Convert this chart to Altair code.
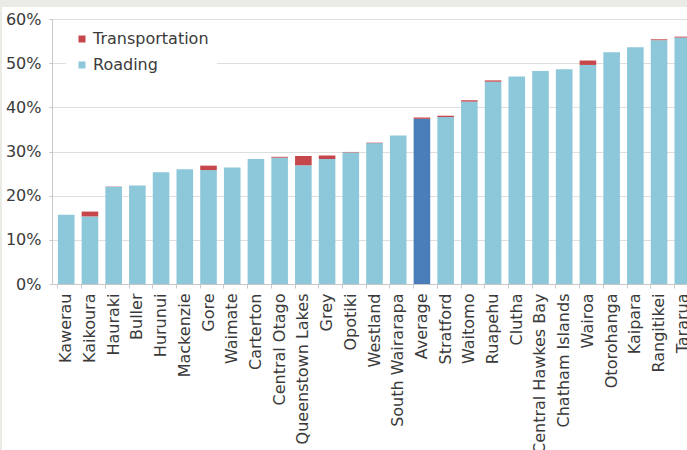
import altair as alt
import pandas as pd

names = ["Kawerau", "Kaikoura", "Hauraki", "Buller", "Hurunui", "Mackenzie", "Gore",
         "Waimate", "Carterton", "Central Otago", "Queenstown Lakes", "Grey", "Opotiki",
         "Westland", "South Wairarapa", "Average", "Stratford", "Waitomo", "Ruapehu",
         "Clutha", "Central Hawkes Bay", "Chatham Islands", "Wairoa", "Otorohanga",
         "Kaipara", "Rangitikei", "Tararua"]
roading = [15.7, 15.3, 22.0, 22.3, 25.3, 26.0, 25.8, 26.4, 28.3, 28.6, 26.9, 28.3, 29.8,
           31.9, 33.6, 37.4, 37.8, 41.3, 45.8, 47.0, 48.2, 48.6, 49.6, 52.5, 53.6, 55.2, 55.8]
transport = [0.0, 1.1, 0.1, 0.0, 0.0, 0.0, 1.0, 0.0, 0.0, 0.2, 2.1, 0.8, 0.1,
             0.1, 0.0, 0.3, 0.3, 0.3, 0.3, 0.0, 0.0, 0.0, 1.0, 0.0, 0.0, 0.2, 0.2]
series_names = ["Transportation", "Roading", "Average"]
series_colors = ["#C6474B", "#8DC8DA", "#4A7EBB"]

rows = []
for n, r, t in zip(names, roading, transport):
    rows.append({"Council": n, "Series": "Average" if n == "Average" else "Roading", "Value": r, "ord": 0})
    rows.append({"Council": n, "Series": "Transportation", "Value": t, "ord": 1})
df = pd.DataFrame(rows)

FONT = "DejaVu Sans"

bars = alt.Chart(df).mark_bar().encode(
    x=alt.X("Council:N", sort=names, title=None,
            scale=alt.Scale(paddingInner=0.3, paddingOuter=0.25, range=[0, 645]),
            axis=alt.Axis(labelAngle=-90, bandPosition=0, tickSize=4, labelPadding=5,
                          labelFont=FONT, labelFontSize=16, labelColor="#3a3a3a",
                          domainColor="#C8C8C8", tickColor="#C8C8C8", grid=False)),
    y=alt.Y("Value:Q", stack="zero", title=None,
            scale=alt.Scale(domain=[0, 60], nice=False),
            axis=alt.Axis(values=[0, 10, 20, 30, 40, 50, 60], labelExpr="datum.value + '%'",
                          tickSize=3, labelPadding=8, labelFont=FONT, labelFontSize=16,
                          labelColor="#3a3a3a", domainColor="#C8C8C8", tickColor="#C8C8C8",
                          gridColor="#DEDEDE")),
    color=alt.Color("Series:N",
                    scale=alt.Scale(domain=series_names, range=series_colors),
                    legend=alt.Legend(values=["Transportation", "Roading"], title=None,
                                      orient="none", legendX=14, legendY=4,
                                      symbolType="square", symbolSize=49, symbolStrokeWidth=0,
                                      labelFont=FONT, labelFontSize=16, labelColor="#3a3a3a",
                                      labelOffset=3, rowPadding=10, padding=8,
                                      fillColor="white")),
    order=alt.Order("ord:Q"),
)

strip_df = pd.DataFrame({"a": [0]})
top_strip = alt.Chart(strip_df).mark_rect(color="#EBEBE6").encode(
    x=alt.value(-52), x2=alt.value(700), y=alt.value(-19), y2=alt.value(-12))
left_strip = alt.Chart(strip_df).mark_rect(color="#EBEBE6").encode(
    x=alt.value(-52), x2=alt.value(-50), y=alt.value(-19), y2=alt.value(500))

chart = alt.layer(bars, top_strip, left_strip).properties(
    width=635, height=265,
    autosize=alt.AutoSizeParams(type="none"),
    padding={"left": 52, "top": 19, "right": 0, "bottom": 166},
    background="white",
).configure_view(stroke=None)

chart.save("out.html", embed_options={"renderer": "svg", "actions": False})
